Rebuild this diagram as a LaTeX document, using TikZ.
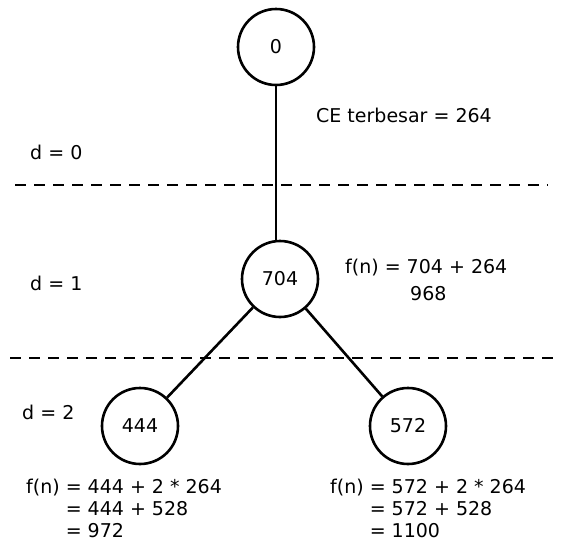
\documentclass[tikz,border=0pt]{standalone}
\usepackage{fontspec}
\setmainfont{DejaVu Sans}
\begin{document}
\begin{tikzpicture}[x=1pt,y=-1pt,
  font=\fontsize{19}{22}\selectfont,
  state/.style={circle, draw, line width=2.6pt, minimum size=76pt, inner sep=0pt},
  edge/.style={line width=2.6pt},
  levelline/.style={line width=2.8pt, dash pattern=on 11pt off 8pt},
  lbl/.style={anchor=west, inner sep=0pt, align=left}]
  \useasboundingbox (0,0) rectangle (563,542);

  % tree nodes
  \node[state] (n0)   at (276,47)  {0};
  \node[state] (n704) at (280,279) {704};
  \node[state] (n444) at (140,426) {444};
  \node[state] (n572) at (408,426) {572};

  % edges
  \draw[edge] (n0.south) -- (n0.south |- n704.north);
  \draw[edge] (n704) -- (n444);
  \draw[edge] (n704) -- (n572);

  % depth separators
  \coordinate (s1a) at (15,185);  \coordinate (s1b) at (548,185);
  \coordinate (s2a) at (10,358);  \coordinate (s2b) at (560,358);
  \draw[levelline] (s1a) -- (s1b);
  \draw[levelline] (s2a) -- (s2b);

  % depth labels
  \node[lbl] (d0) at (30,152) {d = 0};
  \node[lbl] (d1) at (30,283) {d = 1};
  \node[lbl] (d2) at (22,412) {d = 2};

  % annotations
  \node[lbl] (ce) at (316,115) {CE terbesar = 264};
  \node[lbl] (f1) at (345,268) {f(n) = 704 + 264};
  \node[lbl] (f1b) at (410,294) {968};
  \node[lbl] (f2) at (26,510) {f(n) = 444 + 2 * 264\\\phantom{f(n) }= 444 + 528\\\phantom{f(n) }= 972};
  \node[lbl] (f3) at (330,510) {f(n) = 572 + 2 * 264\\\phantom{f(n) }= 572 + 528\\\phantom{f(n) }= 1100};
\end{tikzpicture}
\end{document}
